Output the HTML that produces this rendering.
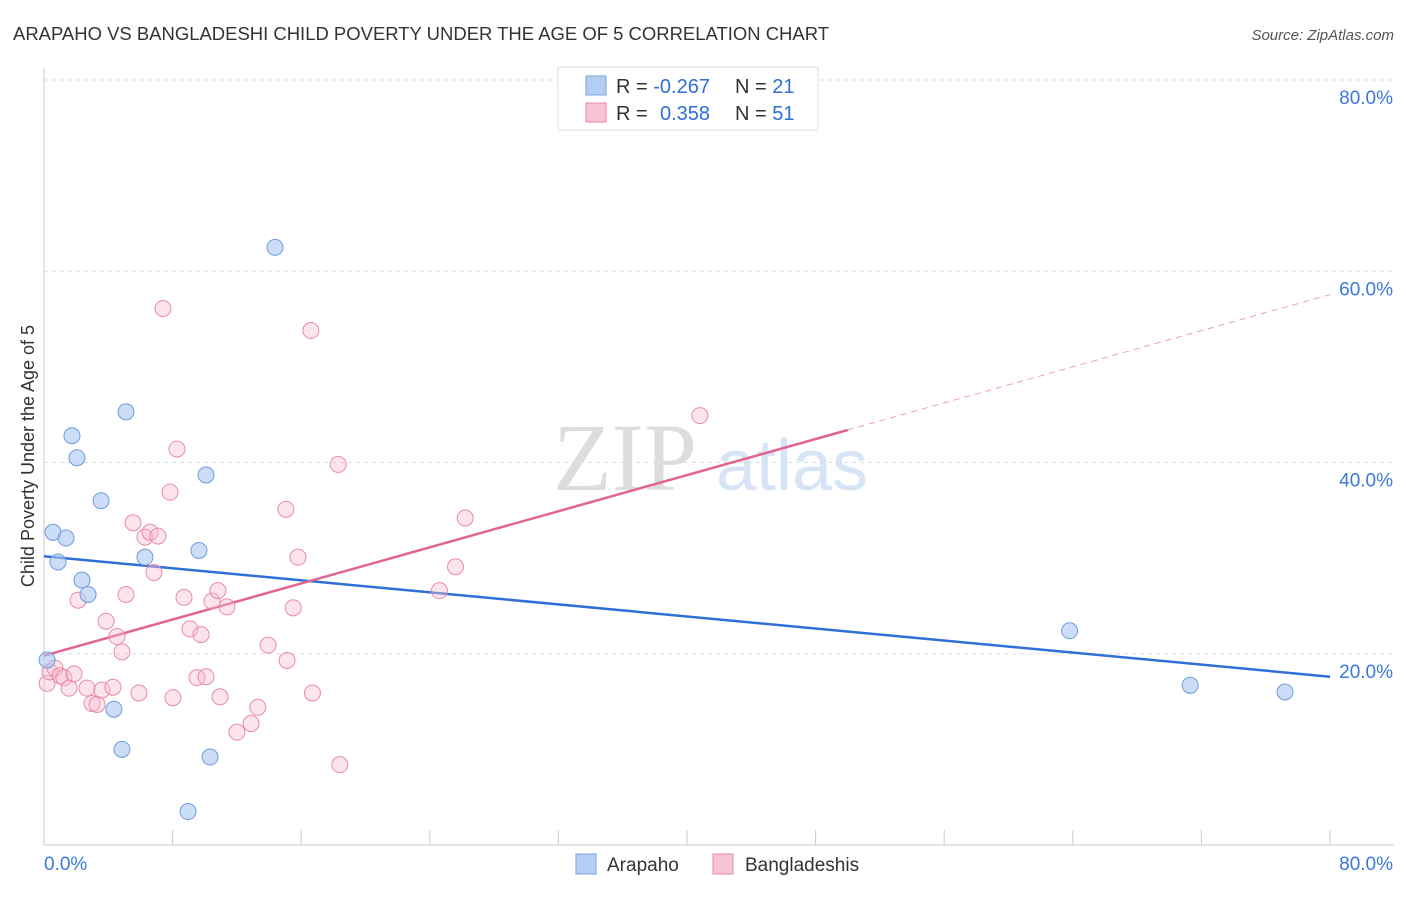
<!DOCTYPE html>
<html><head><meta charset="utf-8"><style>
body{margin:0;background:#fff;font-family:"Liberation Sans",sans-serif;}
svg text{font-family:"Liberation Sans",sans-serif;}
svg text.serif{font-family:"Liberation Serif",serif;}
</style></head><body>
<svg id="chart" width="1406" height="892" viewBox="0 0 1406 892" xmlns="http://www.w3.org/2000/svg">
<text x="13" y="40" font-size="18" fill="#333" textLength="816" lengthAdjust="spacingAndGlyphs">ARAPAHO VS BANGLADESHI CHILD POVERTY UNDER THE AGE OF 5 CORRELATION CHART</text>
<text x="1394" y="40" font-size="15" fill="#555" font-style="italic" text-anchor="end">Source: ZipAtlas.com</text>
<g>
<text class="serif" x="553" y="490" font-size="96" fill="#d0d0d0" opacity="0.7">ZIP</text>
<text x="716" y="490" font-size="72" fill="#b8cfee" opacity="0.55">atlas</text>
</g>
<g id="grid"></g>
<g id="axes"></g>
<g id="lines"></g>
<g id="points"></g>
<text transform="translate(34,456) rotate(-90)" font-size="18" fill="#333" text-anchor="middle">Child Poverty Under the Age of 5</text>
<g>
<rect x="558" y="67" width="260" height="63" fill="#fff" stroke="#ddd"/>
<rect x="586" y="76" width="20" height="19" fill="#b4cdf2" stroke="#7aa3e0"/>
<rect x="586" y="103" width="20" height="19" fill="#f8c5d5" stroke="#e98aa8"/>
<text x="616" y="93" font-size="20" fill="#333">R = <tspan fill="#2f6fd6">-0.267</tspan></text>
<text x="735" y="93" font-size="20" fill="#333">N = <tspan fill="#2f6fd6">21</tspan></text>
<text x="616" y="120" font-size="20" fill="#333">R = <tspan fill="#2f6fd6" x="660">0.358</tspan></text>
<text x="735" y="120" font-size="20" fill="#333">N = <tspan fill="#2f6fd6">51</tspan></text>
</g>
<g>
<rect x="576" y="854" width="20" height="20" fill="#b4cdf2" stroke="#7aa3e0"/>
<text x="607" y="871" font-size="19" fill="#333">Arapaho</text>
<rect x="713" y="854" width="20" height="20" fill="#f8c5d5" stroke="#e98aa8"/>
<text x="745" y="871" font-size="19" fill="#333">Bangladeshis</text>
</g>
</svg>
<script>
const xTicks=[0,8,16,24,32,40,48,56,64,72,80];
const yTicks=[20,40,60,80];
const yTickLabels=["20.0%","40.0%","60.0%","80.0%"];
const xTickLabels=["0.0%","80.0%"];
const arapahoX=[0.19,0.56,0.87,1.37,1.74,2.05,2.36,2.74,3.55,4.35,4.85,5.1,6.28,8.96,9.64,10.08,10.33,14.37,63.8,71.3,77.2];
const arapahoY=[19.35,32.7,29.6,32.1,42.8,40.5,27.7,26.2,36.0,14.2,10.0,45.3,30.1,3.5,30.8,38.7,9.2,62.5,22.4,16.7,16.0];
const banglaX=[0.19,0.37,0.68,1.0,1.24,1.56,1.87,2.12,2.67,2.99,3.3,3.6,3.86,4.29,4.54,4.85,5.1,5.54,5.91,6.28,6.6,6.84,7.09,7.4,7.84,8.02,8.27,8.71,9.08,9.52,9.77,10.08,10.45,10.82,10.95,11.38,12.0,12.88,13.3,13.94,15.05,15.12,15.5,15.8,16.6,16.7,18.3,18.4,24.6,25.6,26.2,40.8];
const banglaY=[16.9,18.1,18.5,17.7,17.5,16.4,17.9,25.6,16.4,14.8,14.7,16.2,23.4,16.5,21.8,20.2,26.2,33.7,15.9,32.2,32.7,28.5,32.3,56.1,36.9,15.4,41.4,25.9,22.6,17.5,22.0,17.6,25.5,26.6,15.5,24.9,11.8,12.7,14.4,20.9,35.1,19.3,24.8,30.1,53.8,15.9,39.8,8.4,26.6,29.1,34.2,44.9];
const arapahoTrend=[30.2,17.6]; // y at x=0, y at x=80
const banglaTrend=[19.8,0.472,50]; // intercept, slope, solid end x
const NS="http://www.w3.org/2000/svg";
const X=v=>44+v*16.075, Y=v=>845-v*9.5625;
function mk(t,a,p){const e=document.createElementNS(NS,t);for(const k in a)e.setAttribute(k,a[k]);document.getElementById(p).appendChild(e);return e;}
yTicks.forEach((t,i)=>{
 const g=mk('line',{x1:44,x2:1394,y1:Y(t),y2:Y(t),stroke:'#ddd','stroke-dasharray':'4,4'},'grid');
 
 
 const l=mk('text',{x:1393,y:Y(t)+24,'font-size':19,fill:'#3b78d8','text-anchor':'end'},'axes');l.textContent=yTickLabels[i];
 
 
});
const ya=mk('line',{x1:44,x2:44,y1:68,y2:845,stroke:'#ccc'},'axes');


const xa=mk('line',{x1:44,x2:1394,y1:845,y2:845,stroke:'#ccc'},'axes');


xTicks.forEach(t=>{const k=mk('line',{x1:X(t),x2:X(t),y1:830,y2:845,stroke:'#ccc'},'axes');
 
 });
[[0,'start',44],[80,'end',1393]].forEach((d,i)=>{const l=mk('text',{x:d[2],y:870,'font-size':19,fill:'#3b78d8','text-anchor':d[1]},'axes');l.textContent=xTickLabels[i];
 
 });
const bl=mk('line',{x1:X(0),y1:Y(arapahoTrend[0]),x2:X(80),y2:Y(arapahoTrend[1]),stroke:'#2f6fd6','stroke-width':2.5},'lines');


const pf=x=>banglaTrend[0]+banglaTrend[1]*x;
const ps=mk('line',{x1:X(0),y1:Y(pf(0)),x2:X(banglaTrend[2]),y2:Y(pf(banglaTrend[2])),stroke:'#e06591','stroke-width':2.5},'lines');


const pd=mk('line',{x1:X(banglaTrend[2]),y1:Y(pf(banglaTrend[2])),x2:X(80),y2:Y(pf(80)),stroke:'#e9a0b8','stroke-width':1,'stroke-dasharray':'6,5'},'lines');


banglaX.forEach((x,i)=>{const c=mk('circle',{cx:X(x),cy:Y(banglaY[i]),r:8,fill:'#f7bccf','fill-opacity':0.4,stroke:'#e98aa8','stroke-width':1},'points');
 
 });
arapahoX.forEach((x,i)=>{const c=mk('circle',{cx:X(x),cy:Y(arapahoY[i]),r:8,fill:'#aac7f1','fill-opacity':0.6,stroke:'#6f9bdc','stroke-width':1},'points');
 
 });
</script>
</body></html>
